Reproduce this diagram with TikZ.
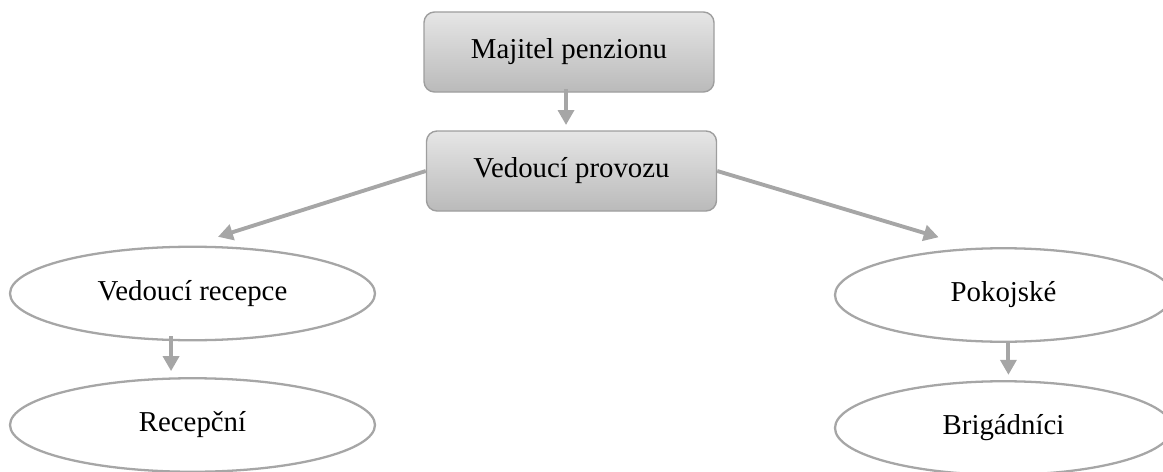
\documentclass[tikz,border=0pt]{standalone}
\usepackage{fontspec}
\setmainfont{Liberation Serif}
\usepackage{tikz}
\usetikzlibrary{shapes.geometric,arrows.meta}
\definecolor{linegray}{HTML}{A6A6A6}
\tikzset{
  boss/.style={draw=black!38, line width=0.8pt, rounded corners=6pt, top color=black!10, bottom color=black!27, minimum width=5.8cm, minimum height=1.6cm, font=\fontsize{16.4}{19}\selectfont},
  staff/.style={ellipse, draw=linegray, line width=1.3pt, fill=white, minimum height=1.87cm, inner sep=0pt, font=\fontsize{16.4}{19}\selectfont},
  link/.style={draw=linegray, line width=2.2pt, -{Triangle[length=8.5pt,width=9pt]}}
}

\begin{document}
\begin{tikzpicture}
      \useasboundingbox (0,0) rectangle (23.26,-9.44);
      \node[boss] (owner) at (11.38,-1.04) {Majitel penzionu};
      \node[boss] (manager) at (11.43,-3.42) {Vedoucí provozu};
      \node[staff, minimum width=7.3cm] (headrec) at (3.85,-5.87) {Vedoucí recepce};
      \node[staff, minimum width=7.3cm] (recep) at (3.85,-8.50) {Recepční};
      \node[staff, minimum width=6.74cm] (maids) at (20.07,-5.90) {Pokojské};
      \node[staff, minimum width=6.74cm] (brig) at (20.07,-8.56) {Brigádníci};
      \draw[link, shorten <=-2pt, shorten >=3pt] ([xshift=-1.7pt]owner.south) -- ([xshift=-1.7pt]owner.south |- manager.north);
      \draw[link] (manager.west) -- ([xshift=14.5pt,yshift=5pt]headrec.north);
      \draw[link] (manager.east) -- ([xshift=-36.9pt,yshift=5.6pt]maids.north);
      \draw[link, shorten <=-3pt, shorten >=3.4pt] ([xshift=-12.2pt]headrec.south) -- ([xshift=-12.2pt]recep.north);
      \draw[link, shorten <=0pt, shorten >=3pt] ([xshift=2.8pt]maids.south) -- ([xshift=2.8pt]brig.north);
    \end{tikzpicture}
\end{document}
